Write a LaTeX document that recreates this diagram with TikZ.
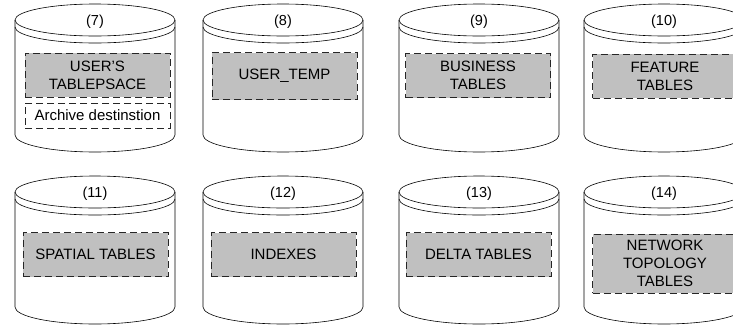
\documentclass[tikz,border=0pt]{standalone}
\usepackage{fontspec}
\setmainfont{Liberation Sans}
\usepackage{tikz}
\definecolor{tblgray}{RGB}{192,192,192}
\tikzset{
  drum/.style={draw=black, line width=0.6pt},
  lbl/.style={inner sep=0pt, font=\fontsize{14.5}{17}\selectfont},
  tbl/.style={draw=black!85, line width=1pt, dash pattern=on 7pt off 4pt,
    fill=tblgray, align=center, minimum width=145pt, minimum height=44pt,
    inner sep=1pt, font=\fontsize{15}{18}\selectfont},
  arch/.style={tbl, fill=white, minimum height=25pt}
}
% one drum: name, centre x, top y, number
\newcommand{\drum}[4]{%
  \draw[drum] (#2,#3+16) ellipse[x radius=80pt, y radius=16pt];
  \draw[drum] (#2-80,#3+23) arc[start angle=180, end angle=360, x radius=80pt, y radius=16pt];
  \draw[drum] (#2-80,#3+16) -- (#2-80,#3+131)
    arc[start angle=180, end angle=360, x radius=80pt, y radius=17pt] -- (#2+80,#3+16);
  \node[lbl] (#1) at (#2,#3+18) {(#4)};
}
\begin{document}
\begin{tikzpicture}[x=1pt, y=-1pt]
  \clip (0,0) rectangle (733,325);

  % Drums
  \drum{n7}{95}{4}{7}
  \drum{n8}{283}{4}{8}
  \drum{n9}{479}{4}{9}
  \drum{n10}{664}{4}{10}
  \drum{n11}{95}{176}{11}
  \drum{n12}{283}{176}{12}
  \drum{n13}{479}{176}{13}
  \drum{n14}{664}{176}{14}

  % Tables
  \node[tbl] (usr) at (97.5,75) {USER'S\\TABLEPSACE};
  \node[arch] (arc) at (97.5,115.5) {Archive destinstion};
  \node[tbl, minimum height=47pt] (tmp) at (284.5,76) {USER\_TEMP};
  \node[tbl] (bus) at (478,75.5) {BUSINESS\\TABLES};
  \node[tbl] (fea) at (665,76) {FEATURE\\TABLES};
  \node[tbl] (spa) at (95.5,254.5) {SPATIAL TABLES};
  \node[tbl] (idx) at (283.5,254.5) {INDEXES};
  \node[tbl] (del) at (478.5,254.5) {DELTA TABLES};
  \node[tbl, minimum height=59pt] (net) at (665,263.5) {NETWORK\\TOPOLOGY\\TABLES};
\end{tikzpicture}
\end{document}
